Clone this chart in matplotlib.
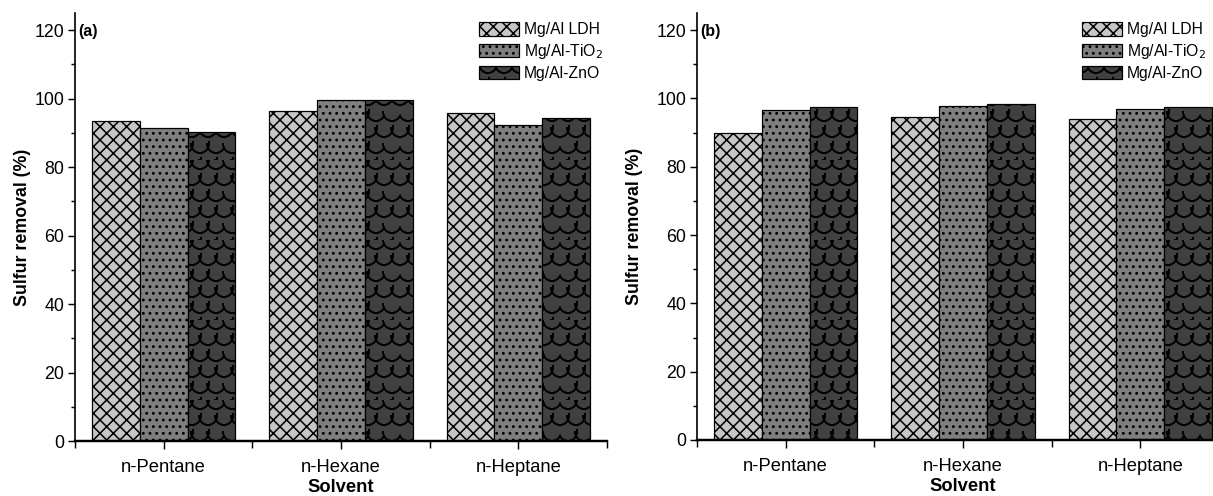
import warnings
import numpy as np
import matplotlib
matplotlib.use("Agg")
import matplotlib.pyplot as plt
from matplotlib import hatch as mhatch
from matplotlib.path import Path
from matplotlib.ticker import MultipleLocator, FixedLocator

warnings.filterwarnings("ignore")

# motif "écailles" pour le ZnO (pas de motif natif dans matplotlib)
class Ecailles(mhatch.Shapes):
    filled = True
    size = 0.56

    def __init__(self, hatch, density):
        self.num_rows = 5 if "~" in hatch else 0
        t = np.linspace(np.pi, 2 * np.pi, 13)
        arc = np.column_stack([np.cos(t), np.sin(t)])
        # aller-retour : trait seul, surface nulle
        self.shape_vertices = np.concatenate([arc, arc[::-1]])
        self.shape_codes = np.array([Path.MOVETO] + [Path.LINETO] * (len(self.shape_vertices) - 1),
                                    dtype=Path.code_type)
        super().__init__(hatch, density)
        if self.num_rows:
            n = self.num_rows
            # lignes paires : n+1 formes, lignes impaires : n formes
            self.num_shapes = (n // 2 + 1) * (n + 1) + ((n + 1) // 2) * n
            self.num_vertices = self.num_shapes * len(self.shape_vertices)


mhatch._hatch_types.append(Ecailles)

plt.rcParams["font.family"] = ["Liberation Sans", "DejaVu Sans"]
plt.rcParams["hatch.linewidth"] = 1.4

solvants = ["n-Pentane", "n-Hexane", "n-Heptane"]
series = ["Mg/Al LDH", "Mg/Al-TiO$_2$", "Mg/Al-ZnO"]

# taux d'élimination du soufre (%)
val_a_ldh = [93.4, 96.3, 95.7]
val_a_tio2 = [91.3, 99.5, 92.2]
val_a_zno = [90.3, 99.6, 94.2]

val_b_ldh = [90.0, 94.5, 94.0]
val_b_tio2 = [96.5, 97.8, 97.0]
val_b_zno = [97.5, 98.3, 97.4]

couleurs = ["#c6c6c6", "#7f7f7f", "#404040"]
motifs = ["xx", "..", "~"]

W, H = 1213, 496
fig = plt.figure(figsize=(W / 80, H / 80), dpi=80)

ax1 = fig.add_axes([75 / W, 55 / H, 532 / W, 428 / H])
ax2 = fig.add_axes([697 / W, 56 / H, 532 / W, 427 / H])

x = np.arange(len(solvants))
lb = 0.27

for ax, donnees, lettre, pad_y in [(ax1, [val_a_ldh, val_a_tio2, val_a_zno], "(a)", 3),
                                   (ax2, [val_b_ldh, val_b_tio2, val_b_zno], "(b)", 12)]:
    for i, vals in enumerate(donnees):
        ax.bar(x + (i - 1) * lb, vals, lb, color=couleurs[i], hatch=motifs[i],
               edgecolor="black", linewidth=1.1, label=series[i])

    ax.set_xlim(-0.5, 2.5)
    ax.set_ylim(0, 125)
    ax.set_xticks(x)
    ax.set_xticklabels(solvants, fontsize=16.5)
    ax.xaxis.set_minor_locator(FixedLocator([-0.5, 0.5, 1.5, 2.5]))
    ax.yaxis.set_major_locator(MultipleLocator(20))
    ax.yaxis.set_minor_locator(MultipleLocator(10))
    ax.tick_params(axis="y", which="major", labelsize=16, length=6, width=1.3)
    ax.tick_params(axis="y", which="minor", length=4, width=1.3)
    ax.tick_params(axis="x", which="major", length=7, width=1.3, pad=9)
    ax.tick_params(axis="x", which="minor", length=6, width=1.3)

    for s in ["top", "right"]:
        ax.spines[s].set_visible(False)
    ax.spines["left"].set_linewidth(1.5)
    ax.spines["bottom"].set_linewidth(2.2)

    ax.set_ylabel("Sulfur removal (%)", fontsize=16, fontweight="bold", labelpad=pad_y)
    ax.set_xlabel("Solvent", fontsize=16.5, fontweight="bold", labelpad=3)
    ax.text(0.006, 0.975, lettre, transform=ax.transAxes, fontsize=14.5,
            fontweight="bold", va="top", ha="left")

leg_kw = dict(fontsize=14.2, frameon=False, handlelength=2.5, handleheight=0.9,
              handletextpad=0.3, labelspacing=0.3, borderaxespad=0.2)
ax1.legend(loc="upper right", bbox_to_anchor=(1.0 + 5 / 532, 1.0), **leg_kw)
ax2.legend(loc="upper right", bbox_to_anchor=(1.0 - 14 / 532, 1.0), **leg_kw)

fig.savefig("out.png", dpi=80)
